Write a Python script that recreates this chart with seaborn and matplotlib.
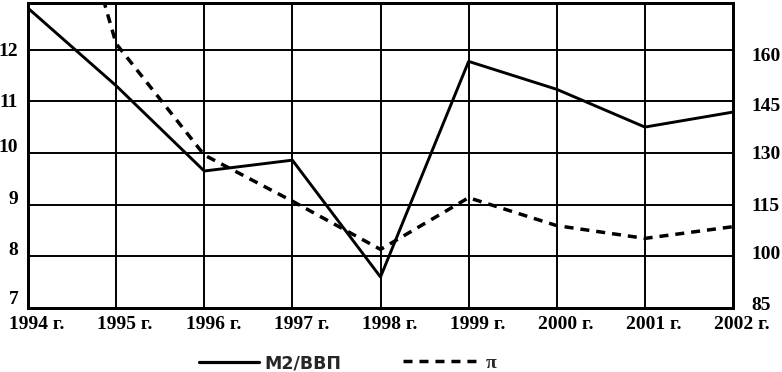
import matplotlib
matplotlib.use("Agg")
import matplotlib.pyplot as plt
import seaborn as sns
import pandas as pd
from matplotlib.transforms import ScaledTranslation
from matplotlib.lines import Line2D

# ---- data ----
years = [1994, 1995, 1996, 1997, 1998, 1999, 2000, 2001, 2002]
year_labels = ["1994 г.", "1995 г.", "1996 г.", "1997 г.", "1998 г.",
               "1999 г.", "2000 г.", "2001 г.", "2002 г."]
m2_gdp = [12.8, 11.3, 9.65, 9.86, 7.6, 11.77, 11.23, 10.5, 10.79]
inflation = [250, 161.7, 129.4, 116, 102, 117, 108.9, 105.2, 108.6]
left_ticks = [7, 8, 9, 10, 11, 12]
right_ticks = [85, 100, 115, 130, 145, 160]

df = pd.DataFrame({"year": years, "m2": m2_gdp, "pi": inflation})

sns.set_theme(style="white")
plt.rcParams["font.family"] = ["Liberation Serif", "DejaVu Serif"]

W, H, DPI = 782, 372, 100
fig = plt.figure(figsize=(W / DPI, H / DPI), dpi=DPI)
L, R, B, T = 28, 733, 308, 3
ax = fig.add_axes([L / W, 1 - B / H, (R - L) / W, (B - T) / H])
ax2 = ax.twinx()

DASH = [2.6, 2.0]
sns.lineplot(data=df, x="year", y="m2", ax=ax, color="black", lw=2.1,
             legend=False)
sns.lineplot(data=df, x="year", y="pi", ax=ax2, color="black", lw=2.5,
             legend=False)
ax2.lines[0].set_dashes(DASH)

ymin, ymax = 7, 12.9
ax.set_xlim(1994, 2002)
ax.set_ylim(ymin, ymax)
ax2.set_ylim(85 + (ymin - 7) * 15, 85 + (ymax - 7) * 15)

ax.set_xticks(years)
ax.set_xticklabels(year_labels, fontweight="bold")
ax.set_yticks(left_ticks)
ax.set_yticklabels([str(t) for t in left_ticks], fontweight="bold")
ax2.set_yticks(right_ticks)
ax2.set_yticklabels([str(t) for t in right_ticks], fontweight="bold")

ax.grid(True, color="black", lw=1.4)
ax.set_axisbelow(True)
ax2.grid(False)
for a in (ax, ax2):
    for s in a.spines.values():
        s.set_color("black")
        s.set_linewidth(2.0)
    a.set_xlabel("")
    a.set_ylabel("")

ax.tick_params(axis="x", length=0, pad=6, labelsize=14, colors="black")
ax.tick_params(axis="y", length=0, pad=7, labelsize=14, colors="black")
ax2.tick_params(axis="y", length=0, pad=13, labelsize=14, colors="black")

def shift(label, dx, dy):
    label.set_transform(label.get_transform() +
                        ScaledTranslation(dx / DPI, dy / DPI, fig.dpi_scale_trans))

for lab in ax.get_xticklabels():
    shift(lab, 9, 0)
left_dy = [10, 8, 7, 7, 1, 0]
for lab, dy in zip(ax.get_yticklabels(), left_dy):
    shift(lab, 0, dy)
right_dy = [5, 4, 0, 0, -3, -5]
for lab, dy in zip(ax2.get_yticklabels(), right_dy):
    shift(lab, 0, dy)

ly = 1 - 363 / H
fs1 = 12.5
leg1 = fig.legend([Line2D([], [], color="black", lw=2.3)], ["М2/ВВП"],
                  loc="center left", bbox_to_anchor=(199 / W, ly),
                  frameon=False, borderpad=0, borderaxespad=0,
                  handlelength=60 / (fs1 * DPI / 72), handletextpad=0.3,
                  prop={"family": ["DejaVu Sans"], "weight": "bold", "size": fs1})
fs2 = 14
leg2 = fig.legend([Line2D([], [], color="black", lw=2.5, dashes=DASH)], ["π"],
                  loc="center left", bbox_to_anchor=(403 / W, ly),
                  frameon=False, borderpad=0, borderaxespad=0,
                  handlelength=77 / (fs2 * DPI / 72), handletextpad=0.3,
                  prop={"family": ["Liberation Serif"], "weight": "bold", "size": fs2})

fig.savefig("out.png", dpi=DPI)
